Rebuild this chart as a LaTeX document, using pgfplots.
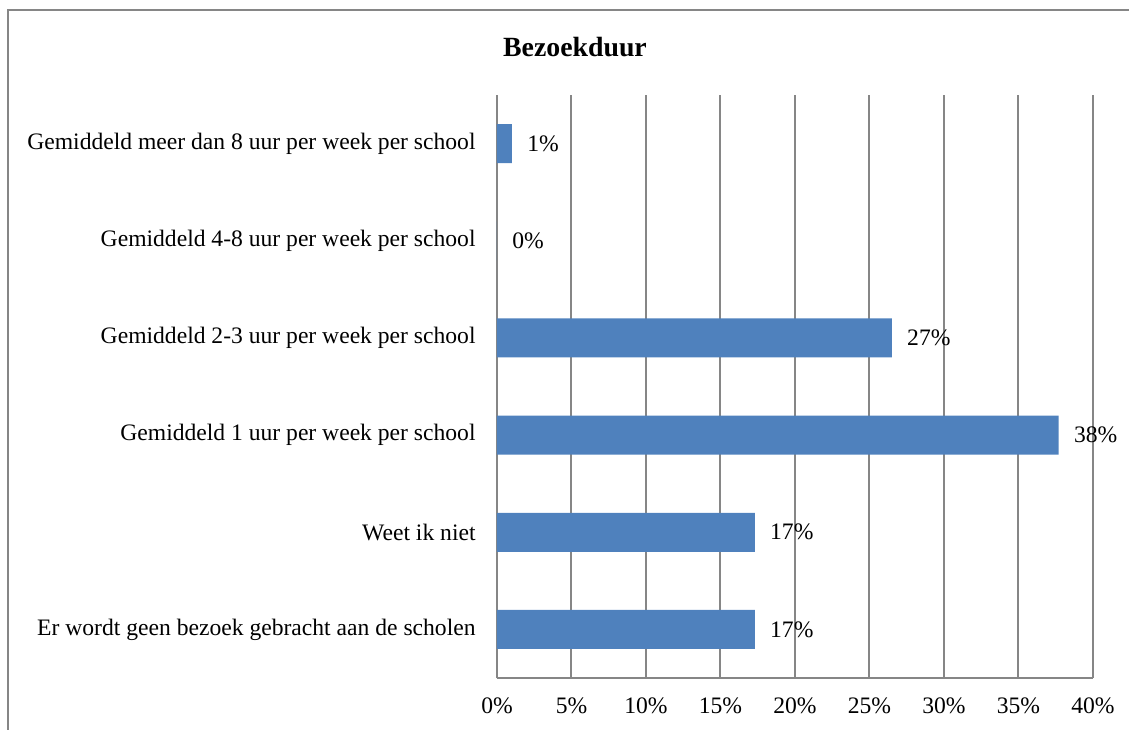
\documentclass[border=0pt]{standalone}
\usepackage{pgfplots}
\pgfplotsset{compat=1.18}
\usepackage{fontspec}
\setmainfont{Liberation Serif}
\definecolor{barblue}{HTML}{4F81BD}
\definecolor{gridgray}{HTML}{868686}
\begin{document}
\fontsize{11.8}{14}\selectfont
\begin{tikzpicture}
\useasboundingbox (-248.5pt,-25.5pt) rectangle (316pt,339pt);
\draw[gridgray, line width=1pt] (-244.25pt,-30pt) -- (-244.25pt,333.75pt) -- (320pt,333.75pt);
\node[font=\fontsize{13.9}{16}\selectfont\bfseries] at (39pt,315.5pt) {Bezoekduur};
\begin{axis}[
  at={(0,0)}, anchor=south west,
  scale only axis,
  width=298pt, height=291.5pt,
  xbar, bar width=19.5pt,
  xmin=0, xmax=40,
  ymin=-0.5, ymax=5.5,
  xtick={0,5,...,40},
  xticklabels={0\%,5\%,10\%,15\%,20\%,25\%,30\%,35\%,40\%},
  ytick={0,1,2,3,4,5},
  yticklabels={Er wordt geen bezoek gebracht aan de scholen,Weet ik niet,Gemiddeld 1 uur per week per school,Gemiddeld 2-3 uur per week per school,Gemiddeld 4-8 uur per week per school,Gemiddeld meer dan 8 uur per week per school},
  major tick length=0pt,
  xmajorgrids,
  grid style={gridgray, line width=1pt},
  axis x line*=bottom, axis y line*=left,
  axis line style={gridgray, line width=1pt, -},
  xticklabel style={anchor=center, inner sep=0pt, yshift=-14pt},
  yticklabel style={anchor=east, inner sep=0pt, xshift=-10.5pt},
  /pgf/number format/assume math mode=true,
  point meta=explicit symbolic,
  nodes near coords,
  nodes near coords style={anchor=west, inner sep=0pt, xshift=7.5pt, text=black},
  tick label style={text=black},
]
\addplot[fill=barblue, draw=none] table[x=x, y=y, meta=lab] {
x y lab
17.3 0 17\%
17.3 1 17\%
37.7 2 38\%
26.5 3 27\%
0 4 0\%
1.0 5 1\%
};
\end{axis}
\end{tikzpicture}
\end{document}
